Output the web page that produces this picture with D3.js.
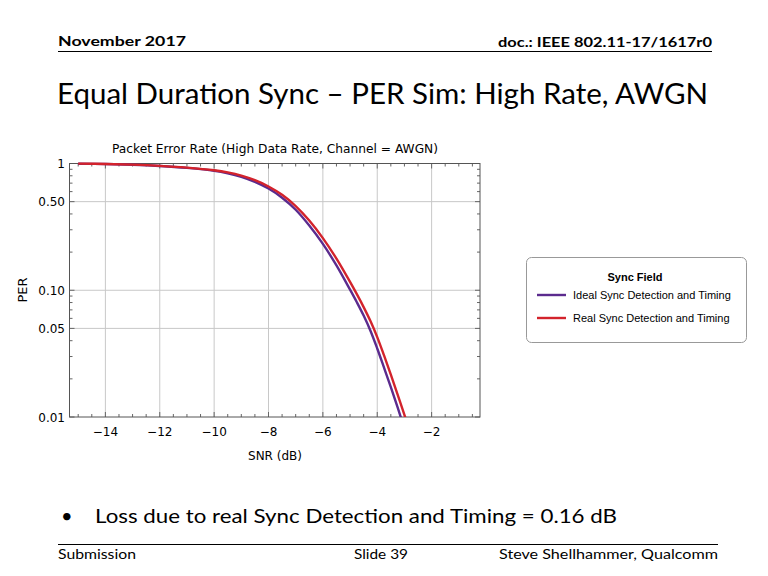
<!DOCTYPE html>
<html>
<head>
<meta charset="utf-8">
<script src="https://cdn.jsdelivr.net/npm/d3@7"></script>
<style>
  body { margin: 0; background: #fff; }
  svg { display: block; }
</style>
</head>
<body>
<div id="slide"></div>
<script>
// --- data
const snr = [-15, -14, -13, -12, -11, -10, -9.5, -9, -8.5, -8, -7.5, -7, -6.5, -6, -5.5, -5,
             -4.75, -4.5, -4.25, -4, -3.75, -3.5, -3.25, -3, -2.75];
const perIdeal = [0.9966, 0.9908, 0.977, 0.955, 0.923, 0.877, 0.838, 0.785, 0.716, 0.634, 0.537, 0.4315, 0.324, 0.232, 0.157, 0.101,
                  0.0804, 0.0631, 0.0479, 0.0347, 0.0245, 0.0172, 0.0119, 0.0081, 0.0055];
const perReal  = [0.9972, 0.9917, 0.9795, 0.9585, 0.9277, 0.884, 0.850, 0.802, 0.738, 0.659, 0.566, 0.462, 0.355, 0.258, 0.1776, 0.1164,
                  0.0931, 0.0736, 0.0571, 0.0427, 0.0306, 0.0216, 0.0150, 0.0104, 0.0071];
const seriesNames = ["Ideal Sync Detection and Timing", "Real Sync Detection and Timing"];
const seriesColors = ["#5b2b8e", "#d3232c"];
const xTicks = [-14, -12, -10, -8, -6, -4, -2];
const yTicks = [1, 0.5, 0.1, 0.05, 0.01];
const yTickLabels = ["1", "0.50", "0.10", "0.05", "0.01"];

const W = 768, H = 576;
const svg = d3.select("#slide").append("svg").attr("width", W).attr("height", H);

const slideFont = "Lato, 'Open Sans', sans-serif";
const chartFont = "'DejaVu Sans', Verdana, sans-serif";

// --- slide header / footer
svg.append("text").attr("x", 58).attr("y", 46)
    .attr("font-family", slideFont).attr("font-weight", "bold").attr("font-size", 14)
    .attr("textLength", 128).attr("lengthAdjust", "spacingAndGlyphs")
    .text("November 2017");
svg.append("text").attr("x", 498).attr("y", 47)
    .attr("font-family", slideFont).attr("font-weight", "bold").attr("font-size", 14)
    .attr("textLength", 214).attr("lengthAdjust", "spacingAndGlyphs")
    .text("doc.: IEEE 802.11-17/1617r0");
svg.append("line").attr("x1", 58).attr("x2", 712).attr("y1", 51.5).attr("y2", 51.5)
    .attr("stroke", "#000").attr("stroke-width", 1);

svg.append("text").attr("x", 57).attr("y", 104)
    .attr("font-family", slideFont).attr("font-size", 28)
    .attr("textLength", 651).attr("lengthAdjust", "spacingAndGlyphs")
    .text("Equal Duration Sync \u2013 PER Sim: High Rate, AWGN");

svg.append("text").attr("x", 61).attr("y", 523)
    .attr("font-family", slideFont).attr("font-size", 20).text("\u2022");
svg.append("text").attr("x", 95).attr("y", 523)
    .attr("font-family", slideFont).attr("font-size", 20)
    .attr("textLength", 522).attr("lengthAdjust", "spacingAndGlyphs")
    .text("Loss due to real Sync Detection and Timing = 0.16 dB");

svg.append("line").attr("x1", 58).attr("x2", 718).attr("y1", 544.5).attr("y2", 544.5)
    .attr("stroke", "#000").attr("stroke-width", 1);
svg.append("text").attr("x", 58).attr("y", 559)
    .attr("font-family", slideFont).attr("font-size", 14)
    .attr("textLength", 78).attr("lengthAdjust", "spacingAndGlyphs").text("Submission");
svg.append("text").attr("x", 354).attr("y", 559)
    .attr("font-family", slideFont).attr("font-size", 14)
    .attr("textLength", 54).attr("lengthAdjust", "spacingAndGlyphs").text("Slide 39");
svg.append("text").attr("x", 499).attr("y", 559)
    .attr("font-family", slideFont).attr("font-size", 14)
    .attr("textLength", 219).attr("lengthAdjust", "spacingAndGlyphs").text("Steve Shellhammer, Qualcomm");

// --- plot area
const plot = { left: 69.5, right: 480, top: 163.5, bottom: 417 };
const x = d3.scaleLinear().domain([-15.32, -0.22]).range([plot.left, plot.right]);
const y = d3.scaleLog().domain([0.01, 1]).range([plot.bottom, plot.top]);

const chart = svg.append("g");

// grid
chart.append("g").selectAll("line").data(xTicks).enter().append("line")
    .attr("x1", d => x(d)).attr("x2", d => x(d))
    .attr("y1", plot.top).attr("y2", plot.bottom)
    .attr("stroke", "#c8c8c8").attr("stroke-width", 1);
chart.append("g").selectAll("line").data(yTicks.slice(1, -1)).enter().append("line")
    .attr("x1", plot.left).attr("x2", plot.right)
    .attr("y1", d => y(d)).attr("y2", d => y(d))
    .attr("stroke", "#c8c8c8").attr("stroke-width", 1);

// minor ticks
const xMinor = d3.range(-15, -0.2, 0.5);
const yMinor = [0.02, 0.03, 0.04, 0.06, 0.07, 0.08, 0.09, 0.2, 0.3, 0.4, 0.6, 0.7, 0.8, 0.9];
const tickG = chart.append("g").attr("stroke", "#666").attr("stroke-width", 1);
xMinor.forEach(v => {
    const len = xTicks.includes(v) ? 5 : 3;
    tickG.append("line").attr("x1", x(v)).attr("x2", x(v)).attr("y1", plot.bottom).attr("y2", plot.bottom - len);
    tickG.append("line").attr("x1", x(v)).attr("x2", x(v)).attr("y1", plot.top).attr("y2", plot.top + len);
});
yMinor.concat(yTicks).forEach(v => {
    const len = yTicks.includes(v) ? 5 : 3;
    tickG.append("line").attr("x1", plot.left).attr("x2", plot.left + len).attr("y1", y(v)).attr("y2", y(v));
    tickG.append("line").attr("x1", plot.right).attr("x2", plot.right - len).attr("y1", y(v)).attr("y2", y(v));
});

// frame
chart.append("rect").attr("x", plot.left).attr("y", plot.top)
    .attr("width", plot.right - plot.left).attr("height", plot.bottom - plot.top)
    .attr("fill", "none").attr("stroke", "#555").attr("stroke-width", 1);

// axes labels
chart.append("g").selectAll("text").data(xTicks).enter().append("text")
    .attr("x", d => x(d)).attr("y", 436)
    .attr("text-anchor", "middle").attr("font-family", chartFont).attr("font-size", 12)
    .text(d => "\u2212" + Math.abs(d));
chart.append("g").selectAll("text").data(yTicks).enter().append("text")
    .attr("x", 65).attr("y", d => y(d) + 4.5)
    .attr("text-anchor", "end").attr("font-family", chartFont).attr("font-size", 12)
    .text((d, i) => yTickLabels[i]);

chart.append("text").attr("x", 275).attr("y", 460).attr("text-anchor", "middle")
    .attr("font-family", chartFont).attr("font-size", 12).text("SNR (dB)");
chart.append("text").attr("transform", "translate(27,290) rotate(-90)").attr("text-anchor", "middle")
    .attr("font-family", chartFont).attr("font-size", 13).text("PER");
chart.append("text").attr("x", 275).attr("y", 153).attr("text-anchor", "middle")
    .attr("font-family", chartFont).attr("font-size", 12)
    .attr("textLength", 326).attr("lengthAdjust", "spacingAndGlyphs")
    .text("Packet Error Rate (High Data Rate, Channel = AWGN)");

// curves
svg.append("clipPath").attr("id", "clip").append("rect")
    .attr("x", plot.left).attr("y", plot.top - 2)
    .attr("width", plot.right - plot.left).attr("height", plot.bottom - plot.top + 2);

const line = d3.line().curve(d3.curveCatmullRom.alpha(0.5))
    .x(d => x(d[0])).y(d => y(d[1]));

[perIdeal, perReal].forEach((vals, i) => {
    chart.append("path")
        .datum(snr.map((s, k) => [s, vals[k]]))
        .attr("clip-path", "url(#clip)")
        .attr("fill", "none").attr("stroke", seriesColors[i]).attr("stroke-width", 2.4)
        .attr("d", line);
});

// legend
const legend = svg.append("g").attr("transform", "translate(526,257)");
legend.append("rect").attr("x", 0.5).attr("y", 0.5).attr("width", 220).attr("height", 85)
    .attr("rx", 5).attr("fill", "#fff").attr("stroke", "#999");
legend.append("text").attr("x", 109).attr("y", 24).attr("text-anchor", "middle")
    .attr("font-family", "'Liberation Sans', Arial, sans-serif").attr("font-weight", "bold").attr("font-size", 11)
    .text("Sync Field");
seriesNames.forEach((name, i) => {
    const ly = 38 + i * 23;
    legend.append("line").attr("x1", 11).attr("x2", 40).attr("y1", ly).attr("y2", ly)
        .attr("stroke", seriesColors[i]).attr("stroke-width", 2.4);
    legend.append("text").attr("x", 47).attr("y", ly + 4)
        .attr("font-family", "'Liberation Sans', Arial, sans-serif").attr("font-size", 11)
        .text(name);
});
</script>
</body>
</html>
